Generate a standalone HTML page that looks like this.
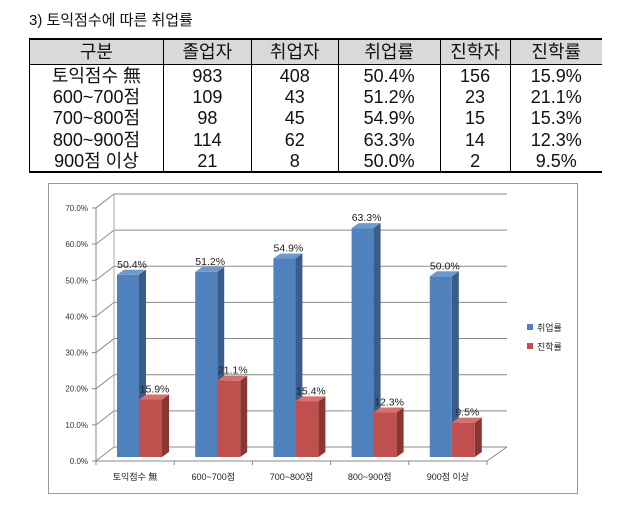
<!DOCTYPE html>
<html><head><meta charset="utf-8"><style>
body{margin:0;background:#fff;width:638px;height:508px;overflow:hidden;font-family:"Liberation Sans","Noto Sans CJK KR",sans-serif;}
#title{position:absolute;left:29px;top:9px;font-size:15px;color:#111;}
table{position:absolute;left:29px;top:38px;width:573px;border-collapse:collapse;font-size:18px;color:#111;}
td,th{text-align:center;font-weight:normal;padding:0;height:21.3px;line-height:20px;}
th{background:#d9d9d9;height:24px;border-bottom:1px solid #000;border-top:2px solid #000;border-left:1px solid #000;}
td{border-left:1px solid #000;}
tbody tr:last-child td{border-bottom:2px solid #000;}
svg{position:absolute;left:0;top:0;}
</style></head><body>
<div id="title">3) 토익점수에 따른 취업률</div>
<table>
<colgroup><col style="width:134px"><col style="width:88px"><col style="width:87px"><col style="width:102px"><col style="width:70px"><col style="width:92px"></colgroup>
<thead><tr><th>구분</th><th>졸업자</th><th>취업자</th><th>취업률</th><th>진학자</th><th>진학률</th></tr></thead>
<tbody>
<tr><td>토익점수 無</td><td>983</td><td>408</td><td>50.4%</td><td>156</td><td>15.9%</td></tr>
<tr><td>600~700점</td><td>109</td><td>43</td><td>51.2%</td><td>23</td><td>21.1%</td></tr>
<tr><td>700~800점</td><td>98</td><td>45</td><td>54.9%</td><td>15</td><td>15.3%</td></tr>
<tr><td>800~900점</td><td>114</td><td>62</td><td>63.3%</td><td>14</td><td>12.3%</td></tr>
<tr><td>900점 이상</td><td>21</td><td>8</td><td>50.0%</td><td>2</td><td>9.5%</td></tr>
</tbody></table>
<svg id="chart" width="638" height="508"></svg>
<script>
const categories=["토익점수 無","600~700점","700~800점","800~900점","900점 이상"];
const employRate=[50.4,51.2,54.9,63.3,50.0];
const advanceRate=[15.9,21.1,15.4,12.3,9.5];
const employLabels=["50.4%","51.2%","54.9%","63.3%","50.0%"];
const advanceLabels=["15.9%","21.1%","15.4%","12.3%","9.5%"];
const yTicks=[0,10,20,30,40,50,60,70];
const yTickLabels=["0.0%","10.0%","20.0%","30.0%","40.0%","50.0%","60.0%","70.0%"];
const seriesNames=["취업률","진학률"];

const svg=document.getElementById('chart');
const NS='http://www.w3.org/2000/svg';
function mk(t,a,p){const e=document.createElementNS(NS,t);for(const k in a)e.setAttribute(k,a[k]);(p||svg).appendChild(e);return e;}
const x0=96,x1=487,dx=18,dy=-14,yAxis0=461,pxPer=3.615,barBase=457;
const band=(x1-x0)/categories.length;
const yF=v=>yAxis0-v*pxPer;
const yB=v=>barBase-v*pxPer;

let f=mk('rect',{x:48.5,y:183.5,width:529,height:310,fill:'#fff',stroke:'#999'});

yTicks.forEach((v,i)=>{
  const y=yF(v);
  let g=mk('polyline',{points:`${x0},${y} ${x0+dx},${y+dy} ${x1+dx+2},${y+dy}`,fill:'none',stroke:'#8a8a8a','stroke-width':1});
  
  mk('line',{x1:x0-4,y1:y,x2:x0,y2:y,stroke:'#888'});
  let t=mk('text',{x:x0-8,y:y+3,'font-size':8,'text-anchor':'end',fill:'#333'});
  t.textContent=yTickLabels[i];
  
});
mk('line',{x1:x0,y1:yF(0),x2:x0,y2:yF(70),stroke:'#888'});
mk('line',{x1:x0+dx,y1:yF(0)+dy,x2:x0+dx,y2:yF(70)+dy,stroke:'#aaa'});
let fl=mk('polyline',{points:`${x0},${yF(0)} ${x1},${yF(0)} ${x1+dx+2},${yF(0)+dy}`,fill:'none',stroke:'#888'});

for(let i=0;i<=categories.length;i++){mk('line',{x1:x0+band*i,y1:yF(0),x2:x0+band*i,y2:yF(0)+4,stroke:'#888'});}

function bar(x,v,w,c,name,label){
  const top=yB(v),d=7,dd=5;
  const g=mk('g',{});
  
  mk('polygon',{points:`${x+w},${top} ${x+w+d},${top-dd} ${x+w+d},${barBase-dd} ${x+w},${barBase}`,fill:c[1]},g);
  mk('polygon',{points:`${x},${top} ${x+d},${top-dd} ${x+w+d},${top-dd} ${x+w},${top}`,fill:c[2]},g);
  mk('rect',{x:x,y:top,width:w,height:barBase-top,fill:c[0]},g);
  const t=mk('text',{x:x+w/2+4,y:top-7,'font-size':10.5,'text-anchor':'middle',fill:'#222'});
  t.textContent=label;
  
}
const blue=['#4f81bd','#385d8a','#6f98cb'],red=['#c0504d','#8c3633','#d2716e'];
categories.forEach((c,i)=>{
  const bx=x0+band*i+21;
  bar(bx,employRate[i],22,blue,'bar-employ-'+i,employLabels[i]);
  bar(bx+22,advanceRate[i],23,red,'bar-advance-'+i,advanceLabels[i]);
  const t=mk('text',{x:x0+band*(i+0.5),y:480,'font-size':9,'text-anchor':'middle',fill:'#222'});
  t.textContent=c;
  
});
[blue[0],red[0]].forEach((c,i)=>{
  const g=mk('g',{});
  
  mk('rect',{x:527,y:324+i*19,width:6,height:6,fill:c},g);
  const t=mk('text',{x:537,y:331+i*19,'font-size':9,fill:'#222'},g);
  t.textContent=seriesNames[i];
});
</script>
</body></html>
